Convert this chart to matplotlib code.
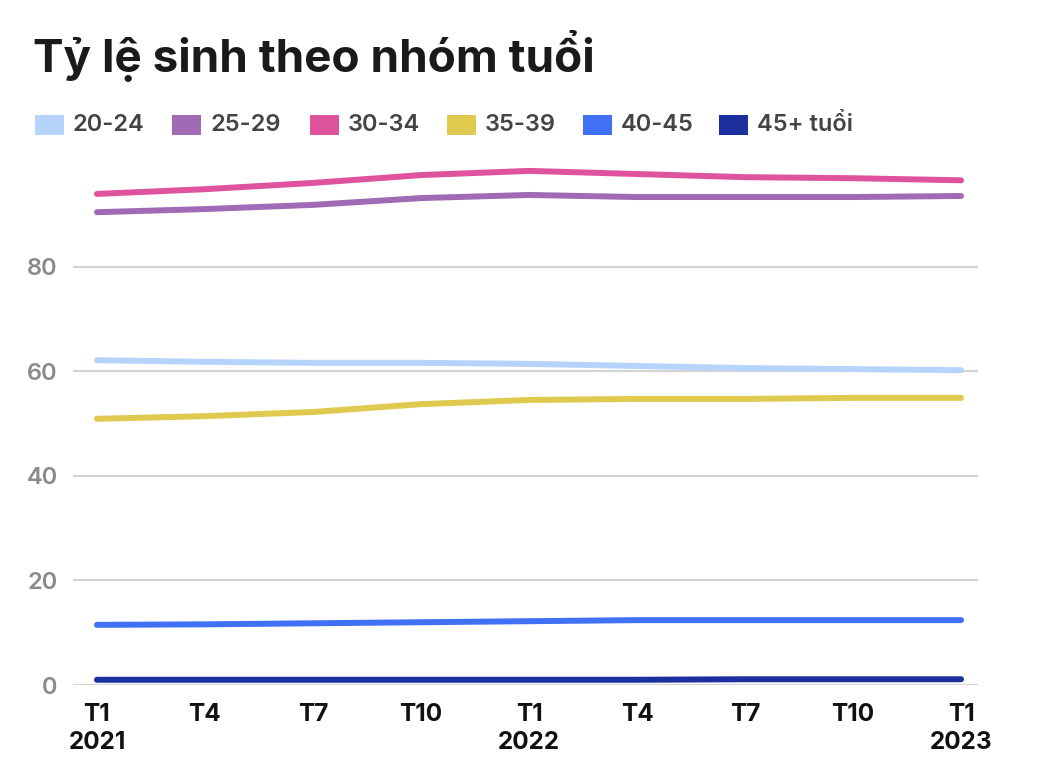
import matplotlib.pyplot as plt
from matplotlib.patches import Rectangle

plt.rcParams['font.family'] = ['Inter', 'DejaVu Sans']

# Data (quarterly points)
x_labels = ['T1\n2021', 'T4', 'T7', 'T10', 'T1\n2022', 'T4', 'T7', 'T10', 'T1\n2023']
groups = ['20-24', '25-29', '30-34', '35-39', '40-45', '45+ tuổi']
colors = ['#b6d4fb', '#a06ab4', '#df529e', '#e0c94f', '#4070f4', '#1b2f9e']

v_20_24 = [62.1, 61.8, 61.6, 61.6, 61.4, 61.0, 60.6, 60.4, 60.2]
v_25_29 = [90.4, 91.0, 91.8, 93.1, 93.7, 93.3, 93.3, 93.3, 93.5]
v_30_34 = [93.9, 94.8, 96.0, 97.5, 98.3, 97.7, 97.1, 96.9, 96.5]
v_35_39 = [50.9, 51.4, 52.2, 53.7, 54.5, 54.7, 54.7, 54.9, 54.9]
v_40_45 = [11.5, 11.6, 11.8, 12.0, 12.2, 12.4, 12.4, 12.4, 12.4]
v_45_up = [1.0, 1.0, 1.0, 1.0, 1.0, 1.0, 1.1, 1.1, 1.1]
series = [v_20_24, v_25_29, v_30_34, v_35_39, v_40_45, v_45_up]

W, H = 1062, 778
fig = plt.figure(figsize=(W / 100, H / 100), dpi=100)
ax = fig.add_axes([73 / W, 1 - 685 / H, (978 - 73) / W, (685 - 162) / H])

xs = list(range(len(x_labels)))
for vals, c in zip(series, colors):
    ax.plot(xs, vals, color=c, lw=4.3, solid_capstyle='round', zorder=3)

ax.set_xlim(-0.222, 8.157)
ax.set_ylim(0, 100)
ax.set_yticks([0, 20, 40, 60, 80])
ax.grid(axis='y', color='#d4d4d4', lw=1.6)
ax.set_axisbelow(True)
for s in ax.spines.values():
    s.set_visible(False)
ax.tick_params(axis='both', length=0)
ax.tick_params(axis='y', pad=11, labelsize=17, labelcolor='#8a8a8a')
ax.tick_params(axis='x', pad=13, labelsize=17.5, labelcolor='#111111')
ax.set_xticks(xs)
ax.set_xticklabels(x_labels, linespacing=1.25, fontweight='bold')
for t in ax.get_yticklabels():
    t.set_fontweight('semibold')

# Title
fig.text(33 / W, 1 - 72 / H, 'Tỷ lệ sinh theo nhóm tuổi', fontsize=33,
         fontweight='bold', color='#1a1a1a', va='baseline', ha='left')

# Legend
patch_x = [35, 172, 310, 447, 583, 719]
for px, name, c in zip(patch_x, groups, colors):
    fig.add_artist(Rectangle((px / W, 1 - 135 / H), 29 / W, 20 / H,
                             transform=fig.transFigure, color=c, lw=0))
    fig.text((px + 38) / W, 1 - 125 / H, name, fontsize=17, color='#444444',
             va='center', ha='left', fontweight='semibold')

fig.savefig('out.png', dpi=100)
